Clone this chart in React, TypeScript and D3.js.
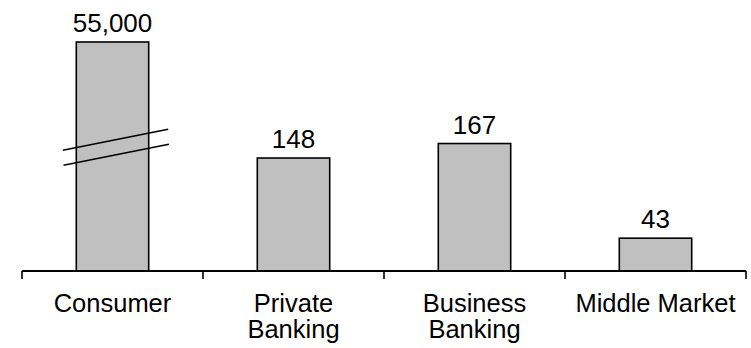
import React from "react";
import * as d3 from "d3";

const categories = ["Consumer", "Private Banking", "Business Banking", "Middle Market"];
const categoryLines = [["Consumer"], ["Private", "Banking"], ["Business", "Banking"], ["Middle Market"]];
const values = [55000, 148, 167, 43];
const valueLabels = ["55,000", "148", "167", "43"];
// The Consumer bar is drawn truncated (axis break) at this scale value
const brokenCap = 300;
const breakAt = 162;

const W = 751;
const H = 348;

export default function App() {
  const x = d3
    .scaleBand<string>()
    .domain(categories)
    .range([22, 746])
    .paddingInner(0.6)
    .paddingOuter(0.3);
  const y = d3.scaleLinear().domain([0, brokenCap]).range([271, 42]);
  const step = x.step();
  const bw = x.bandwidth();
  const baseY = y(0);

  const tickXs = categories.map((c) => (x(c) as number) + bw / 2 - step / 2);
  tickXs.push((x(categories[categories.length - 1]) as number) + bw / 2 + step / 2);

  const font = "'Liberation Sans', Arial, Helvetica, sans-serif";

  return (
    <svg
      width={W}
      height={H}
      style={{ position: "absolute", left: 0, top: 0, background: "#fff" }}
    >
      <rect x={0} y={0} width={W} height={H} fill="#fff" />
      {categories.map((c, i) => {
        const v = Math.min(values[i], brokenCap);
        const x0 = x(c) as number;
        const top = y(v);
        return (
          <rect
            key={c}
            x={x0}
            y={top}
            width={bw}
            height={baseY - top}
            fill="#c0c0c0"
            stroke="#000"
            strokeWidth={1.6}
          />
        );
      })}
      {categories.map((c, i) => {
        if (values[i] <= brokenCap) return null;
        const x0 = x(c) as number;
        const cy = y(breakAt);
        const xa = x0 - 13.5;
        const xb = x0 + bw + 19.5;
        const rise = 21;
        return (
          <g key={"brk" + c} stroke="#000" strokeWidth={1.6}>
            <line x1={xa} y1={cy - 7.5 + rise / 2} x2={xb} y2={cy - 7.5 - rise / 2} />
            <line x1={xa + 0.7} y1={cy + 7.5 + rise / 2} x2={xb + 0.7} y2={cy + 7.5 - rise / 2} />
          </g>
        );
      })}
      <line x1={tickXs[0]} x2={tickXs[tickXs.length - 1]} y1={baseY} y2={baseY} stroke="#000" strokeWidth={2} />
      {tickXs.map((tx, i) => (
        <line key={"t" + i} x1={tx} x2={tx} y1={baseY} y2={baseY + 8} stroke="#000" strokeWidth={1.6} />
      ))}
      {categories.map((c, i) => {
        const v = Math.min(values[i], brokenCap);
        const cx = (x(c) as number) + bw / 2;
        return (
          <text
            key={"v" + c}
            x={cx}
            y={y(v) - 10}
            textAnchor="middle"
            fontFamily={font}
            fontSize={26}
            fill="#000"
          >
            {valueLabels[i]}
          </text>
        );
      })}
      {categories.map((c, i) => {
        const cx = (x(c) as number) + bw / 2;
        return (
          <g key={"c" + c}>
            {categoryLines[i].map((ln, j) => (
              <text
                key={j}
                x={cx}
                y={312 + j * 26}
                textAnchor="middle"
                fontFamily={font}
                fontSize={25.5}
                fill="#000"
              >
                {ln}
              </text>
            ))}
          </g>
        );
      })}
    </svg>
  );
}
